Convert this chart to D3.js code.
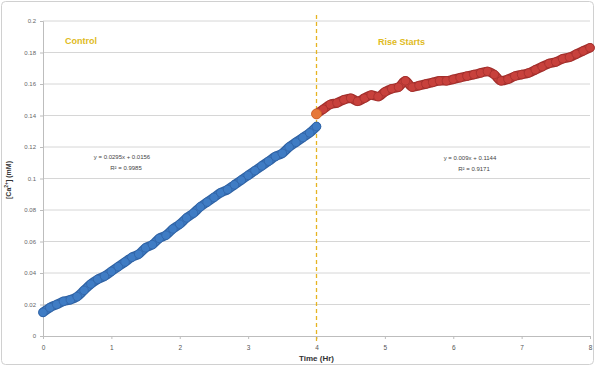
<!DOCTYPE html>
<html>
<head>
<meta charset="utf-8">
<script src="https://d3js.org/d3.v7.min.js"></script>
<style>
  body { margin: 0; background: #fff; }
  svg { display: block; font-family: "Liberation Sans", Arial, sans-serif; }
</style>
</head>
<body>
<div id="chart"></div>
<script>
// Control phase, hours 0.0 .. 4.0 every 0.1 h
const controlTimes = d3.range(0, 41).map(i => i / 10);
const controlValues = [
  0.015, 0.018, 0.020, 0.022, 0.023, 0.025, 0.029, 0.033, 0.036, 0.038,
  0.041, 0.044, 0.047, 0.050, 0.052, 0.056, 0.058, 0.062, 0.064, 0.068,
  0.071, 0.075, 0.078, 0.082, 0.085, 0.088, 0.091, 0.093, 0.096, 0.099,
  0.102, 0.105, 0.108, 0.111, 0.114, 0.116, 0.120, 0.123, 0.126, 0.129,
  0.133
];

// Rise phase, hours 4.0 .. 8.0 every 0.1 h
const riseTimes = d3.range(40, 81).map(i => i / 10);
const riseValues = [
  0.141, 0.144, 0.147, 0.148, 0.150, 0.151, 0.149, 0.151, 0.153, 0.152,
  0.155, 0.157, 0.158, 0.162, 0.158, 0.159, 0.160, 0.161, 0.162, 0.162,
  0.163, 0.164, 0.165, 0.166, 0.167, 0.168, 0.166, 0.162, 0.163, 0.165,
  0.166, 0.167, 0.169, 0.171, 0.173, 0.174, 0.176, 0.177, 0.179, 0.181,
  0.183
];

const xTicks = [0, 1, 2, 3, 4, 5, 6, 7, 8];
const yTicks = [0, 0.02, 0.04, 0.06, 0.08, 0.1, 0.12, 0.14, 0.16, 0.18, 0.2];
const splitTime = 4;
const controlFit = ['y = 0.0295x + 0.0156', 'R² = 0.9985'];
const riseFit = ['y = 0.009x + 0.1144', 'R² = 0.9171'];

const W = 595, H = 366;
const margin = { top: 21, right: 5, bottom: 30, left: 43 };

const svg = d3.select('#chart').append('svg')
  .attr('width', W).attr('height', H);

// outer frame
svg.append('rect')
  .attr('x', 1.5).attr('y', 1.5)
  .attr('width', W - 3).attr('height', H - 3)
  .attr('rx', 4)
  .attr('fill', '#fff').attr('stroke', '#d0d0d0');

const x = d3.scaleLinear().domain([0, 8]).range([margin.left, W - margin.right]);
const y = d3.scaleLinear().domain([0, 0.2]).range([H - margin.bottom, margin.top]);

// gridlines
svg.append('g').selectAll('line')
  .data(yTicks.filter(d => d > 0))
  .enter().append('line')
  .attr('x1', x(0)).attr('x2', x(8))
  .attr('y1', d => y(d)).attr('y2', d => y(d))
  .attr('stroke', '#d6d6d6').attr('stroke-width', 1);

// y axis
const yAxis = svg.append('g')
  .attr('transform', `translate(${x(0)},0)`)
  .call(d3.axisLeft(y).tickValues(yTicks).tickSize(3).tickPadding(4)
    .tickFormat(d => d === 0 ? '0' : String(+d.toFixed(2))));
yAxis.select('.domain').attr('stroke', '#bdbdbd');
yAxis.selectAll('.tick line').attr('stroke', '#bdbdbd');
yAxis.selectAll('text').attr('fill', '#666').style('font-size', '6px');

// x axis
const xAxis = svg.append('g')
  .attr('transform', `translate(0,${y(0)})`)
  .call(d3.axisBottom(x).tickValues(xTicks).tickSize(3).tickPadding(6)
    .tickFormat(d3.format('d')));
xAxis.select('.domain').attr('stroke', '#bdbdbd');
xAxis.selectAll('.tick line').attr('stroke', '#bdbdbd');
xAxis.selectAll('text').attr('fill', '#555').style('font-size', '6.5px');

// split marker
svg.append('line')
  .attr('x1', x(splitTime)).attr('x2', x(splitTime))
  .attr('y1', y(0.2) - 6).attr('y2', y(0) + 8)
  .attr('stroke', '#e6b422').attr('stroke-width', 1.3)
  .attr('stroke-dasharray', '4,3');

// series
const line = d3.line().x(d => x(d[0])).y(d => y(d[1])).curve(d3.curveMonotoneX);
const control = controlTimes.map((t, i) => [t, controlValues[i]]);
const rise = riseTimes.map((t, i) => [t, riseValues[i]]);

function drawSeries(data, fill, edge) {
  svg.append('path')
    .datum(data)
    .attr('d', line)
    .attr('fill', 'none')
    .attr('stroke', edge)
    .attr('stroke-width', 9.5)
    .attr('stroke-linejoin', 'round')
    .attr('stroke-linecap', 'round');
  svg.append('path')
    .datum(data)
    .attr('d', line)
    .attr('fill', 'none')
    .attr('stroke', fill)
    .attr('stroke-width', 7)
    .attr('stroke-linejoin', 'round')
    .attr('stroke-linecap', 'round');
  svg.append('g').selectAll('circle')
    .data(data)
    .enter().append('circle')
    .attr('cx', d => x(d[0]))
    .attr('cy', d => y(d[1]))
    .attr('r', 4.3)
    .attr('fill', fill)
    .attr('stroke', edge)
    .attr('stroke-width', 0.7);
}

drawSeries(control, '#3f7cc4', '#2f62a3');
drawSeries(rise, '#c8413c', '#a02e2b');

// first point of the rise phase is orange
svg.append('g').selectAll('circle')
  .data(rise.slice(0, 1))
  .enter().append('circle')
  .attr('cx', d => x(d[0]))
  .attr('cy', d => y(d[1]))
  .attr('r', 5)
  .attr('fill', '#e6783a')
  .attr('stroke', '#cf6128')
  .attr('stroke-width', 0.8);

// phase labels
svg.append('text')
  .attr('x', 65).attr('y', 44)
  .attr('fill', '#e0ba22')
  .style('font-size', '9px')
  .style('font-weight', 'bold')
  .text('Control');

svg.append('text')
  .attr('x', 378).attr('y', 45)
  .attr('fill', '#e0ba22')
  .style('font-size', '9px')
  .style('font-weight', 'bold')
  .text('Rise Starts');

// trendline equations
function fitLabel(lines, cx, cy) {
  const g = svg.append('text')
    .attr('text-anchor', 'middle')
    .attr('fill', '#444')
    .style('font-size', '6px');
  lines.forEach((t, i) => {
    g.append('tspan').attr('x', cx + (i ? 4 : 0)).attr('y', cy + i * 11).text(t);
  });
}
fitLabel(controlFit, 122, 159);
fitLabel(riseFit, 470, 160);

// axis titles
svg.append('text')
  .attr('transform', `translate(11,${180}) rotate(-90)`)
  .attr('text-anchor', 'middle')
  .attr('fill', '#333')
  .style('font-size', '7px')
  .style('font-weight', 'bold')
  .html('[Ca<tspan baseline-shift="super" font-size="5px">2+</tspan>] (mM)');

svg.append('text')
  .attr('x', x(4)).attr('y', 361)
  .attr('text-anchor', 'middle')
  .attr('fill', '#333')
  .style('font-size', '8px')
  .style('font-weight', 'bold')
  .text('Time (Hr)');
</script>
</body>
</html>
